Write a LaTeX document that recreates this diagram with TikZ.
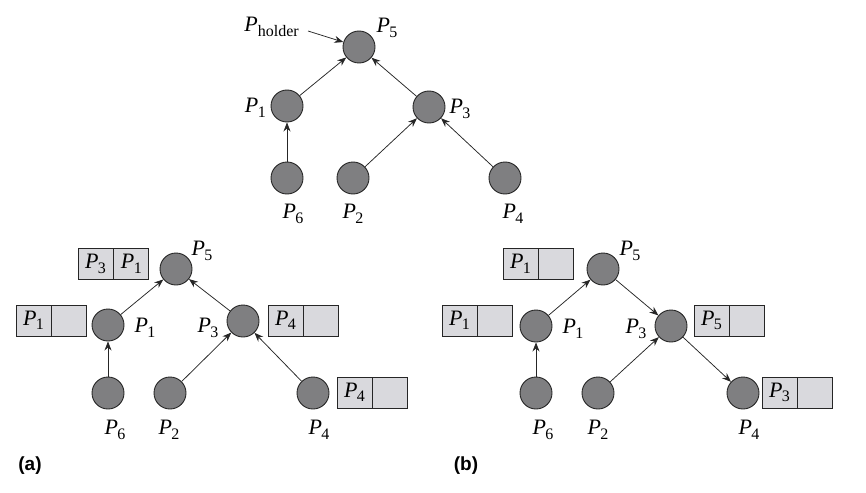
\documentclass[tikz,border=0pt]{standalone}
\usepackage{fontspec}
\setmainfont{Liberation Serif}
\newfontfamily\labsans{Liberation Sans}
\usetikzlibrary{arrows.meta}
\definecolor{nodegray}{HTML}{7F7F81}
\definecolor{boxgray}{HTML}{D9D9DD}
\tikzset{
  proc/.style={circle,draw=black!85,fill=nodegray,line width=0.9pt,minimum size=32pt,inner sep=0pt},
  lab/.style={font=\fontsize{22}{22}\selectfont,inner sep=0pt},
  cellbox/.style={draw=black!85,fill=boxgray,line width=0.8pt,minimum width=35pt,minimum height=31pt,inner sep=0pt,font=\fontsize{22}{22}\selectfont},
  arr/.style={-{Stealth[length=9pt,width=7pt]},line width=0.75pt,black!85},
  panel/.style={font=\labsans\bfseries\fontsize{19}{19}\selectfont,inner sep=0pt}
}
\newcommand{\Pn}[1]{\textit{P}\kern-0.5pt\raisebox{-0.45ex}{\fontsize{16}{16}\selectfont #1}}
\begin{document}
\begin{tikzpicture}[x=1pt,y=-1pt]
\useasboundingbox (0,0) rectangle (866,492);
% ---------- top tree ----------
\node[proc] (t5) at (359,47) {};
\node[proc] (t1) at (287,106) {};
\node[proc] (t3) at (429,107) {};
\node[proc] (t6) at (287,178) {};
\node[proc] (t2) at (353,178) {};
\node[proc] (t4) at (505,178) {};
\node[lab] (lt5) at (387,28) {\Pn{5}};
\node[lab,anchor=east] (lt1) at (266,108) {\Pn{1}};
\node[lab] (lt3) at (460,109) {\Pn{3}};
\node[lab] (lt6) at (293,214) {\Pn{6}};
\node[lab] (lt2) at (353,214) {\Pn{2}};
\node[lab] (lt4) at (513,214) {\Pn{4}};
\node[lab,anchor=east] (hold) at (299,27) {\textit{P}\raisebox{-0.45ex}{\fontsize{16}{16}\selectfont holder}};
\coordinate (hs) at (308,31);
\draw[arr] (hs) -- (t5);
\draw[arr] (t1) -- (t5);
\draw[arr] (t3) -- (t5);
\draw[arr] (t6) -- (t1);
\draw[arr] (t2) -- (t3);
\draw[arr] (t4) -- (t3);
% ---------- (a) ----------
\node[proc] (a5) at (176,269) {};
\node[proc] (a1) at (108,325) {};
\node[proc] (a3) at (243,321) {};
\node[proc] (a6) at (108,393) {};
\node[proc] (a2) at (170,393) {};
\node[proc] (a4) at (313,393) {};
\node[lab] (la5) at (202,251) {\Pn{5}};
\node[lab] (la1) at (145,328) {\Pn{1}};
\node[lab] (la3) at (208,328) {\Pn{3}};
\node[lab] (la6) at (115,430) {\Pn{6}};
\node[lab] (la2) at (169,430) {\Pn{2}};
\node[lab] (la4) at (319,430) {\Pn{4}};
\draw[arr] (a1) -- (a5);
\draw[arr] (a3) -- (a5);
\draw[arr] (a6) -- (a1);
\draw[arr] (a2) -- (a3);
\draw[arr] (a4) -- (a3);
% boxes (a)
\node[cellbox] (ab5l) at (95.5,264) {\Pn{3}};
\node[cellbox,anchor=west] (ab5r) at (ab5l.east) {\Pn{1}};
\node[cellbox] (ab1l) at (33.5,320.5) {\Pn{1}};
\node[cellbox,anchor=west] (ab1r) at (ab1l.east) {};
\node[cellbox] (ab3l) at (285.5,320.5) {\Pn{4}};
\node[cellbox,anchor=west] (ab3r) at (ab3l.east) {};
\node[cellbox] (ab4l) at (354.5,392.5) {\Pn{4}};
\node[cellbox,anchor=west] (ab4r) at (ab4l.east) {};
\node[panel] (pa) at (30,466) {(a)};
% ---------- (b) ----------
\node[proc] (b5) at (603,269) {};
\node[proc] (b1) at (536,326) {};
\node[proc] (b3) at (671,326) {};
\node[proc] (b6) at (536,393) {};
\node[proc] (b2) at (598,393) {};
\node[proc] (b4) at (743,393) {};
\node[lab] (lb5) at (630,251) {\Pn{5}};
\node[lab] (lb1) at (573,329) {\Pn{1}};
\node[lab] (lb3) at (636,329) {\Pn{3}};
\node[lab] (lb6) at (543,430) {\Pn{6}};
\node[lab] (lb2) at (598,430) {\Pn{2}};
\node[lab] (lb4) at (749,430) {\Pn{4}};
\draw[arr] (b1) -- (b5);
\draw[arr] (b5) -- (b3);
\draw[arr] (b3) -- (b4);
\draw[arr] (b6) -- (b1);
\draw[arr] (b2) -- (b3);
% boxes (b)
\node[cellbox] (bb5l) at (520.5,264) {\Pn{1}};
\node[cellbox,anchor=west] (bb5r) at (bb5l.east) {};
\node[cellbox] (bb1l) at (459.5,320.5) {\Pn{1}};
\node[cellbox,anchor=west] (bb1r) at (bb1l.east) {};
\node[cellbox] (bb3l) at (711.5,320.5) {\Pn{5}};
\node[cellbox,anchor=west] (bb3r) at (bb3l.east) {};
\node[cellbox] (bb4l) at (779.5,392.5) {\Pn{3}};
\node[cellbox,anchor=west] (bb4r) at (bb4l.east) {};
\node[panel] (pb) at (466,466) {(b)};
\end{tikzpicture}
\end{document}
